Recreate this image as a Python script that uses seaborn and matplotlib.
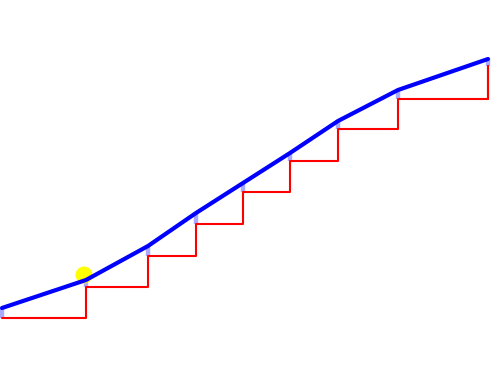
import matplotlib
matplotlib.use("Agg")
import matplotlib.pyplot as plt
import seaborn as sns
import pandas as pd

# data
x_vals = [2, 86, 148, 196, 243, 290, 338, 398, 488]
blue_vals = [70, 98, 132, 165, 195, 225, 257, 288, 319]
red_vals = [60, 91, 122, 154, 186, 217, 249, 279, 312]
marker_x = [84]
marker_y = [103]

df = pd.DataFrame({"x": x_vals, "blue": blue_vals, "red": red_vals})
dm = pd.DataFrame({"x": marker_x, "y": marker_y})

sns.set_style("white")
fig = plt.figure(figsize=(4.91, 3.78), dpi=100)
ax = fig.add_axes([0, 0, 1, 1])

# light connectors between line points and step levels
ax.vlines(df["x"], df["red"], df["blue"], colors="#aaaaff", linewidth=3.2, zorder=1)

sns.scatterplot(data=dm, x="x", y="y", color="#ffff00", s=150, edgecolor="none",
                ax=ax, zorder=2, legend=False)
sns.lineplot(data=df, x="x", y="red", color="#ff0000", linewidth=1.5,
             drawstyle="steps-post", ax=ax, zorder=3, legend=False)
ax.plot([x_vals[-1], x_vals[-1]], [red_vals[-2], red_vals[-1]], color="#ff0000",
        linewidth=1.5, zorder=3)
sns.lineplot(data=df, x="x", y="blue", color="#0000ff", linewidth=3.0,
             ax=ax, zorder=4, legend=False)

ax.set_xlim(0, 491)
ax.set_ylim(0, 378)
ax.axis("off")

fig.savefig("out.png", dpi=100)
